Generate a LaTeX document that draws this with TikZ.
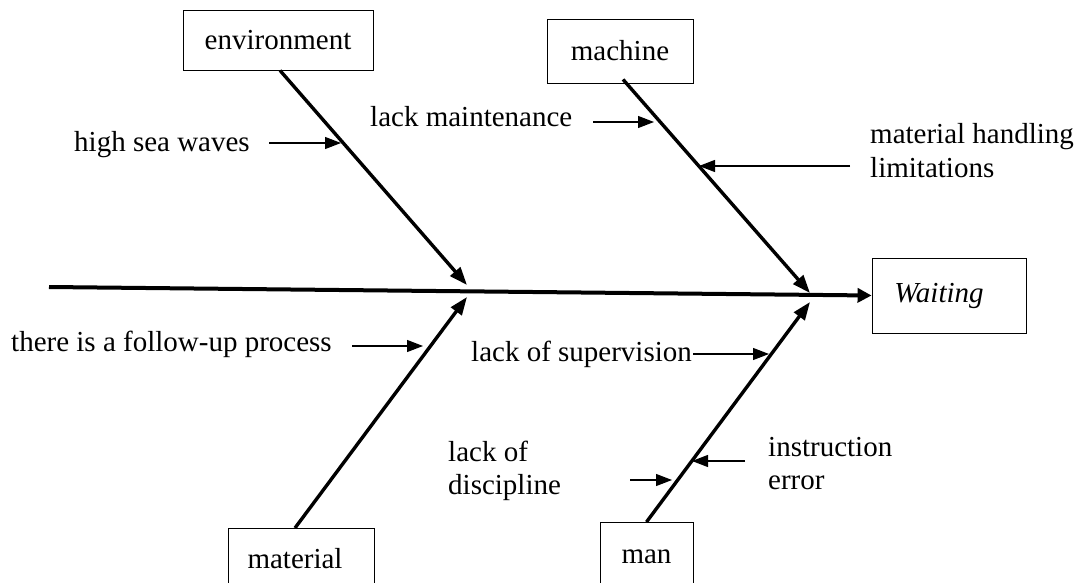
\documentclass[tikz,border=0pt]{standalone}
\usepackage{fontspec}
\setmainfont{Liberation Serif}
\usetikzlibrary{arrows.meta}
\begin{document}
\begin{tikzpicture}[x=1pt,y=-1pt,
  every node/.style={font=\fontsize{29}{32}\selectfont, inner sep=0pt},
  box/.style={draw, line width=0.9pt, inner sep=0pt},
  lbl/.style={anchor=base west},
  spine/.style={line width=4pt, -{Triangle[length=14pt,width=14pt]}},
  bone/.style={line width=3.4pt, -{Triangle[length=18pt,width=13pt]}},
  sub/.style={line width=1.2pt, -{Triangle[length=16pt,width=12pt]}}]
\useasboundingbox (0,0) rectangle (1081,583);
\clip (0,0) rectangle (1081,583);
% boxes
\node[box, minimum width=190pt, minimum height=60pt] (env) at (278,40) {environment};
\node[box, minimum width=146pt, minimum height=64pt] (mach) at (620,51) {machine};
\node[box, minimum width=154pt, minimum height=75pt] (wait) at (949,295.5) {\itshape Waiting\hspace*{20pt}};
\node[box, anchor=north, minimum width=146pt, text height=40pt, text depth=40pt] (mat) at (301,528) {material\hspace*{12pt}};
\node[box, anchor=north, minimum width=93pt, text height=41pt, text depth=40pt] (man) at (646.5,522) {man};
% spine and bones
\coordinate (s0) at (49,287);
\coordinate (jenv) at (467,285);
\coordinate (jmach) at (810,293);
\coordinate (jmat) at (467,297);
\coordinate (jman) at (810,302);
\draw[spine] (s0) -- (wait.west);
\draw[bone] ([xshift=2pt]env.south) -- (jenv);
\draw[bone] ([xshift=3pt,yshift=4pt]mach.south) -- (jmach);
\draw[bone] ([xshift=-6pt]mat.north) -- (jmat);
\draw[bone] (man.north) -- (jman);
% cause labels
\node[lbl] (hsw) at (74,151) {high sea waves};
\node[lbl] (lm) at (370,127) {lack maintenance};
\node[lbl] (mhl) at (870,143) {\fontsize{29}{34}\selectfont\begin{tabular}[t]{@{}l@{}}material handling\\limitations\end{tabular}};
\node[lbl] (fup) at (11,351) {there is a follow-up process};
\node[lbl] (los) at (471,361) {lack of supervision};
\node[lbl] (lod) at (448,461) {\fontsize{29}{33}\selectfont\begin{tabular}[t]{@{}l@{}}lack of\\discipline\end{tabular}};
\node[lbl] (ie) at (768,456) {\fontsize{29}{33}\selectfont\begin{tabular}[t]{@{}l@{}}instruction\\error\end{tabular}};
% cause arrows
\coordinate (a1s) at (269,143); \coordinate (a1e) at (341,143);
\coordinate (a2s) at (593,122); \coordinate (a2e) at (654,122);
\coordinate (a3s) at (850,166); \coordinate (a3e) at (699,166);
\coordinate (a4s) at (352,346); \coordinate (a4e) at (423,346);
\coordinate (a5s) at (693,354); \coordinate (a5e) at (769,354);
\coordinate (a6s) at (630,480); \coordinate (a6e) at (672,480);
\coordinate (a7s) at (745,461); \coordinate (a7e) at (692,461);
\draw[sub] (a1s) -- (a1e);
\draw[sub] (a2s) -- (a2e);
\draw[sub] (a3s) -- (a3e);
\draw[sub] (a4s) -- (a4e);
\draw[sub] (a5s) -- (a5e);
\draw[sub] (a6s) -- (a6e);
\draw[sub] (a7s) -- (a7e);
\end{tikzpicture}
\end{document}
